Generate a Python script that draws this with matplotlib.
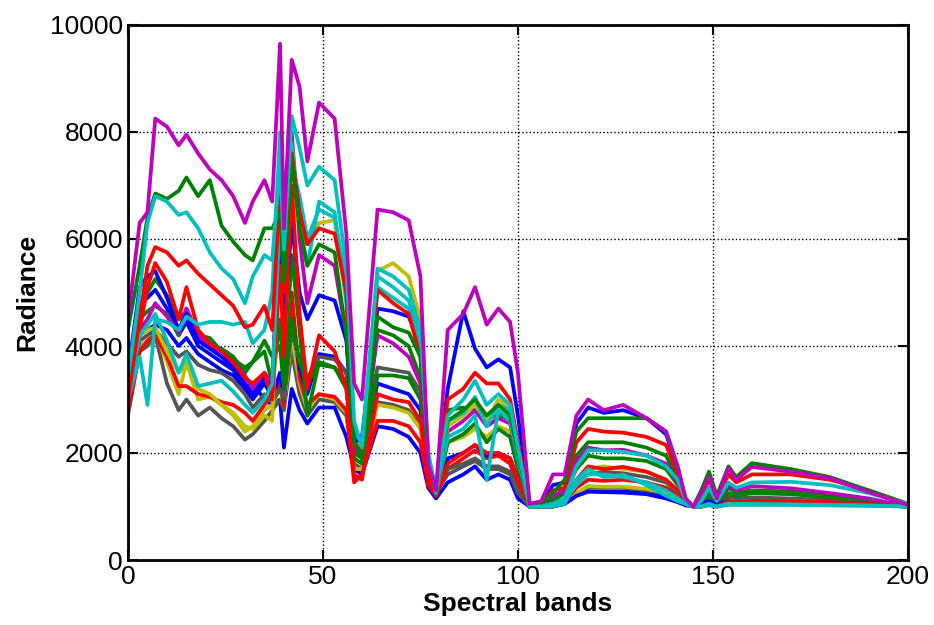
import matplotlib
matplotlib.use('Agg')
import matplotlib.pyplot as plt

plt.rcParams['font.family'] = ['Liberation Sans', 'DejaVu Sans']

# band positions where each spectrum is sampled
bands = [0, 3, 5, 7, 10, 13, 15, 18, 21, 24, 27, 30, 32, 35, 37,
         39, 40, 42, 44, 46, 49, 53, 56, 58, 60,
         64, 68, 72, 75, 77, 79,
         82, 86, 89, 92, 95, 98, 100, 103,
         106, 109, 112, 115, 118, 122, 127, 133, 138, 141, 143, 145,
         147, 149, 151, 154, 156, 160, 170, 180, 190, 200]

# radiance spectra (one list per class)
m_top = [4500, 6300, 6500, 8250, 8100, 7750, 7950, 7600, 7300, 7100, 6800, 6300, 6700, 7100, 6700,
         9650, 6200, 9350, 8850, 7450, 8550, 8250, 6100, 3300, 3000,
         6550, 6500, 6350, 5300, 1800, 1300,
         4300, 4600, 5100, 4400, 4700, 4450, 3500, 1050,
         1100, 1600, 1600, 2700, 3000, 2800, 2900, 2650, 2400, 1750, 1150, 1000,
         1250, 1550, 1150, 1720, 1500, 1740, 1650, 1530, 1270, 1030]
g_hi = [4300, 5500, 6400, 6850, 6750, 6900, 7150, 6800, 7100, 6250, 5950, 5700, 5600, 6200, 6200,
        6500, 5200, 7500, 6200, 5500, 5900, 5750, 4200, 2200, 1900,
        4550, 4350, 4250, 3800, 1800, 1250,
        2600, 2800, 3000, 2700, 2900, 2700, 2000, 1000,
        1050, 1250, 1500, 2400, 2650, 2650, 2650, 2650, 2400, 1700, 1150, 1000,
        1300, 1650, 1200, 1750, 1550, 1810, 1700, 1550, 1300, 1050]
c_hi = [3400, 5000, 6300, 6800, 6700, 6450, 6500, 6200, 5750, 5450, 5250, 4800, 5300, 5700, 5600,
        7500, 5800, 8300, 7700, 7000, 7350, 7100, 5500, 2600, 2100,
        5450, 5300, 5050, 4300, 2000, 1250,
        2700, 3000, 3350, 2900, 3100, 2900, 2100, 1000,
        1000, 1050, 1150, 1750, 2050, 2050, 2020, 1950, 1750, 1500, 1100, 1000,
        1100, 1350, 1100, 1450, 1350, 1450, 1460, 1400, 1250, 1050]
r_hi = [3000, 4500, 5500, 5850, 5750, 5500, 5600, 5350, 5150, 4950, 4750, 4350, 4400, 4750, 4300,
        7000, 5000, 7600, 6500, 5900, 6200, 6100, 5000, 2200, 2000,
        5050, 4800, 4600, 3800, 1700, 1250,
        3000, 3200, 3500, 3300, 3300, 3000, 2200, 1050,
        1050, 1300, 1350, 2200, 2450, 2400, 2380, 2300, 2150, 1600, 1100, 1000,
        1200, 1500, 1150, 1600, 1450, 1600, 1600, 1500, 1300, 1050]
r_2 = [2900, 4300, 5100, 5550, 5200, 4500, 5100, 4300, 4050, 3900, 3700, 3400, 3300, 3500, 3000,
       5500, 3800, 7000, 4600, 3200, 4200, 3900, 3200, 1600, 1500,
       3100, 3000, 2950, 2600, 1500, 1200,
       1800, 2000, 2150, 2000, 2000, 1900, 1500, 1000,
       1000, 1050, 1100, 1500, 1750, 1700, 1740, 1650, 1500, 1300, 1050, 1000,
       1000, 1050, 1000, 1100, 1080, 1100, 1100, 1080, 1050, 1000]
b_1 = [3500, 5100, 5300, 5400, 4900, 4300, 4600, 4100, 3950, 3800, 3600, 3300, 3100, 3400, 3200,
       6000, 4300, 6300, 5000, 4500, 4950, 4850, 4100, 2200, 2300,
       4700, 4650, 4550, 4000, 1900, 1300,
       3200, 4650, 3950, 3600, 3750, 3600, 2700, 1050,
       1050, 1400, 1450, 2550, 2850, 2750, 2800, 2650, 2350, 1700, 1100, 1000,
       1050, 1100, 1050, 1100, 1080, 1100, 1090, 1080, 1050, 1000]
g_2 = [3200, 4700, 5000, 5250, 4950, 4500, 4650, 4200, 4150, 3900, 3750, 3600, 3700, 3900, 3300,
       4500, 3300, 5700, 4300, 2700, 3700, 3600, 3200, 2000, 1900,
       3450, 3450, 3400, 3000, 1600, 1250,
       2200, 2350, 2550, 2200, 2450, 2300, 1700, 1000,
       1050, 1150, 1300, 1950, 2200, 2200, 2200, 2100, 1950, 1500, 1100, 1000,
       1100, 1300, 1050, 1350, 1250, 1300, 1280, 1200, 1100, 1000]
c_2 = [3000, 3800, 2900, 4500, 4450, 4300, 4550, 4400, 4450, 4450, 4400, 4450, 4050, 4300, 5000,
       8000, 6200, 7400, 6800, 6000, 6550, 6400, 5200, 2400, 2200,
       5300, 5100, 4850, 4200, 1900, 1250,
       2600, 2750, 3050, 2500, 2900, 2800, 2000, 1000,
       1000, 1050, 1100, 1400, 1600, 1600, 1550, 1450, 1300, 1150, 1050, 1000,
       1000, 1050, 1000, 1050, 1050, 1050, 1040, 1030, 1020, 1000]
m_2 = [3300, 4300, 4500, 4800, 4550, 4250, 4700, 4200, 4000, 3800, 3700, 3450, 3200, 3500, 3300,
       7000, 4500, 8000, 6000, 4800, 5700, 5500, 4200, 2000, 2200,
       4200, 4050, 3800, 3300, 1700, 1300,
       2400, 2600, 2800, 2500, 2650, 2550, 1900, 1000,
       1050, 1200, 1300, 1850, 2100, 2050, 2060, 1950, 1800, 1450, 1100, 1000,
       1100, 1350, 1100, 1400, 1300, 1380, 1340, 1250, 1150, 1000]
b_2 = [3400, 4800, 4900, 5050, 4700, 4200, 4450, 4000, 3850, 3700, 3550, 3200, 3000, 3300, 3050,
       3500, 3000, 4500, 3600, 3100, 3850, 3800, 3500, 2300, 2000,
       3300, 3200, 3100, 2800, 1500, 1200,
       1900, 2000, 2150, 1950, 2000, 1900, 1500, 1000,
       1000, 1000, 1050, 1200, 1280, 1270, 1260, 1230, 1150, 1080, 1020, 1000,
       1000, 1050, 1000, 1050, 1050, 1050, 1050, 1040, 1030, 1000]
y_1 = [3300, 4200, 4300, 4350, 3900, 3500, 3700, 3200, 3100, 2900, 2750, 2500, 2450, 2700, 2600,
       6000, 4000, 6600, 6300, 5900, 6300, 6350, 5000, 2200, 2100,
       5400, 5550, 5300, 4500, 2000, 1300,
       2500, 2700, 2900, 2600, 3000, 2850, 2000, 1000,
       1000, 1050, 1100, 1500, 1700, 1750, 1700, 1650, 1500, 1300, 1050, 1000,
       1000, 1050, 1000, 1100, 1080, 1100, 1100, 1080, 1050, 1000]
k_1 = [3000, 4100, 4200, 4300, 4050, 3800, 3900, 3650, 3550, 3500, 3350, 3100, 2850, 3100, 2950,
       3200, 3000, 4300, 3700, 3400, 3800, 3750, 3500, 2400, 2100,
       3600, 3550, 3500, 3150, 1700, 1300,
       1700, 1800, 1900, 1750, 1750, 1650, 1300, 1000,
       1000, 1050, 1100, 1450, 1600, 1650, 1620, 1550, 1450, 1250, 1050, 1000,
       1050, 1150, 1050, 1180, 1150, 1170, 1150, 1120, 1080, 1000]
c_3 = [3100, 4200, 4400, 4600, 4100, 3500, 3850, 3250, 3300, 3350, 3150, 2900, 2750, 3000, 3300,
       6500, 5200, 7800, 6300, 5500, 6700, 6500, 4800, 2200, 2000,
       5100, 4900, 4700, 4000, 1900, 1250,
       2300, 2450, 2700, 1500, 2800, 2600, 1900, 1000,
       1000, 1000, 1050, 1500, 1700, 1550, 1590, 1400, 1200, 1100, 1050, 1000,
       1000, 1020, 1000, 1030, 1030, 1030, 1030, 1020, 1010, 1000]
r_3 = [2800, 3900, 4100, 4200, 3800, 3250, 3250, 3100, 3050, 2950, 2900, 2750, 2600, 2900, 3100,
       3300, 2900, 5000, 3400, 2900, 3100, 3050, 2800, 1450, 1600,
       2600, 2600, 2500, 2200, 1400, 1200,
       1700, 1900, 2050, 1900, 1950, 1800, 1400, 1000,
       1000, 1050, 1100, 1350, 1500, 1480, 1500, 1450, 1350, 1200, 1050, 1000,
       1000, 1050, 1000, 1080, 1060, 1080, 1080, 1060, 1040, 1000]
k_2 = [2700, 3900, 4000, 4200, 3300, 2800, 3000, 2700, 2850, 2650, 2500, 2250, 2350, 2600, 2800,
       3000, 2800, 3900, 3100, 2700, 3000, 2950, 2700, 1800, 1700,
       2950, 2900, 2800, 2500, 1500, 1250,
       1600, 1750, 1850, 1700, 1700, 1600, 1250, 1000,
       1000, 1000, 1050, 1250, 1350, 1350, 1350, 1300, 1250, 1150, 1050, 1000,
       1000, 1030, 1000, 1050, 1040, 1050, 1050, 1040, 1030, 1000]
y_2 = [2900, 4000, 4100, 4250, 3700, 3100, 3700, 3000, 3050, 2900, 2700, 2400, 2500, 2800, 2900,
       3200, 2900, 4200, 3300, 2800, 3100, 3000, 2750, 1700, 1700,
       2900, 2850, 2750, 2450, 1450, 1200,
       2200, 2300, 2450, 2300, 2500, 2400, 1800, 1000,
       1000, 1000, 1050, 1250, 1380, 1370, 1370, 1330, 1250, 1150, 1050, 1000,
       1000, 1030, 1000, 1050, 1040, 1050, 1050, 1040, 1030, 1000]
b_3 = [3300, 4200, 4300, 4400, 4300, 4000, 4150, 3850, 3700, 3550, 3450, 3200, 3300, 3000, 2900,
       3000, 2100, 3200, 2800, 2550, 2850, 2850, 2300, 1700, 1600,
       2500, 2450, 2300, 2000, 1350, 1150,
       1450, 1600, 1750, 1500, 1600, 1500, 1150, 1000,
       1000, 1000, 1050, 1200, 1280, 1280, 1280, 1250, 1200, 1100, 1050, 1000,
       1000, 1050, 1000, 1060, 1060, 1070, 1070, 1060, 1050, 1000]
g_3 = [3500, 4500, 4650, 4750, 4600, 4200, 4700, 4200, 3950, 3950, 3800, 3500, 3700, 4100, 3800,
       4000, 3200, 4500, 3700, 3300, 3650, 3600, 3300, 1900, 1800,
       4300, 4200, 4000, 3400, 1700, 1250,
       2800, 2850, 2800, 2650, 2700, 2650, 1950, 1000,
       1050, 1100, 1250, 1700, 1950, 1900, 1900, 1850, 1700, 1400, 1100, 1000,
       1050, 1200, 1050, 1250, 1200, 1250, 1230, 1170, 1100, 1000]

spectra = [b_3, k_2, y_2, r_3, b_2, k_1, g_3, g_2, m_2, y_1, b_1, r_2,
           c_3, c_2, r_hi, g_hi, c_hi, m_top]
colors = ['#0000ff', '#555555', '#bfbf00', '#ff0000', '#0000ff', '#555555',
          '#008000', '#008000', '#bf00bf', '#bfbf00', '#0000ff', '#ff0000',
          '#00bfbf', '#00bfbf', '#ff0000', '#008000', '#00bfbf', '#bf00bf']

fig = plt.figure(figsize=(9.34, 6.25), dpi=100)
ax = fig.add_axes([0.137, 0.104, 0.835, 0.856])

for s, col in zip(spectra, colors):
    ax.plot(bands, s, color=col, linewidth=2.7)

ax.set_xlim(0, 200)
ax.set_ylim(0, 10000)
ax.set_xticks([0, 50, 100, 150, 200])
ax.set_yticks([0, 2000, 4000, 6000, 8000, 10000])
ax.grid(True, linestyle=':', color='k', linewidth=1)
ax.set_axisbelow(True)
ax.tick_params(direction='in', length=7, width=1.5, top=True, right=True, labelsize=19)
for sp in ax.spines.values():
    sp.set_linewidth(2)

ax.set_xlabel('Spectral bands', fontsize=19, fontweight='bold', labelpad=2)
ax.set_ylabel('Radiance', fontsize=19, fontweight='bold', labelpad=8)

fig.savefig('out.png', dpi=100)
